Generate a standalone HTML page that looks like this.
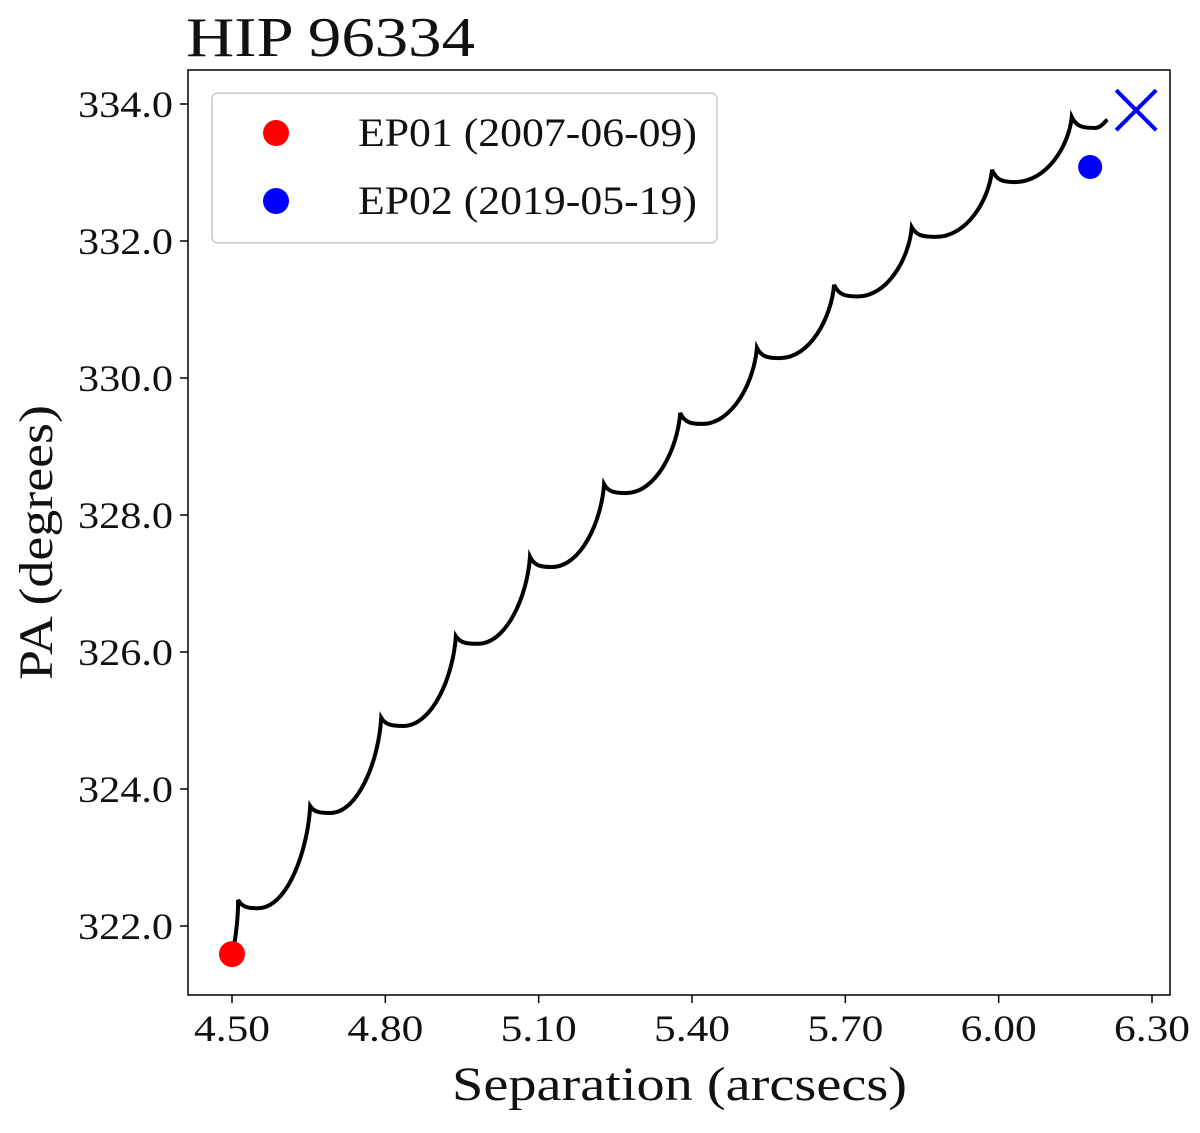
<!DOCTYPE html>
<html><head><meta charset="utf-8"><style>
body{margin:0;background:#fff}
svg text{font-family:"Liberation Serif","DejaVu Serif",serif;fill:#111}
</style></head><body>
<svg width="1200" height="1128" xmlns="http://www.w3.org/2000/svg" id="chart">
<text x="186" y="56" font-size="56" textLength="289" lengthAdjust="spacingAndGlyphs">HIP 96334</text>
<g id="ticks"></g>
<path id="track" fill="none" stroke="#000" stroke-width="4"/>
<g id="marks"></g>
<rect x="188" y="70" width="982" height="925" fill="none" stroke="#000" stroke-width="1.5"/>
<text x="452" y="1100" font-size="48" textLength="455" lengthAdjust="spacingAndGlyphs">Separation (arcsecs)</text>
<text transform="translate(52,680) rotate(-90)" font-size="48" textLength="275" lengthAdjust="spacingAndGlyphs">PA (degrees)</text>
<g>
<rect x="212" y="93" width="505" height="150" rx="6" fill="#fff" stroke="#ccc" stroke-width="1.5"/>
<circle cx="276" cy="133" r="13" fill="#ff0000"/>
<text x="358" y="146" font-size="40" textLength="339" lengthAdjust="spacingAndGlyphs">EP01 (2007-06-09)</text>
<circle cx="276" cy="201" r="13" fill="#0000ff"/>
<text x="358" y="214" font-size="40" textLength="339" lengthAdjust="spacingAndGlyphs">EP02 (2019-05-19)</text>
</g>
</svg>
<script>
const xTicks=[4.5,4.8,5.1,5.4,5.7,6.0,6.3];
const xTickLabels=["4.50","4.80","5.10","5.40","5.70","6.00","6.30"];
const yTicks=[322,324,326,328,330,332,334];
const yTickLabels=["322.0","324.0","326.0","328.0","330.0","332.0","334.0"];
const startPt=[4.50,321.59];
const cuspX=[4.512,4.653,4.792,4.938,5.083,5.228,5.377,5.527,5.678,5.830,5.987,6.143];
const cuspY=[322.38,323.75,325.04,326.23,327.39,328.45,329.49,330.44,331.36,332.20,333.04,333.81];
const minX=[4.551,4.692,4.835,4.981,5.126,5.271,5.420,5.572,5.724,5.877,6.032,6.188];
const minY=[322.26,323.65,324.92,326.12,327.24,328.32,329.33,330.29,331.19,332.06,332.86,333.65];
const endPt=[6.213,333.77];
const ep01=[4.50,321.59];
const ep02=[6.179,333.08];
const predicted=[6.269,333.91];
const sx=v=>232+(v-4.5)*(920/1.8);
const sy=v=>926-(v-322)*(822/12);
const NS="http://www.w3.org/2000/svg";
const tg=document.getElementById('ticks');
function mk(tag,attrs,parent){const e=document.createElementNS(NS,tag);for(const k in attrs)e.setAttribute(k,attrs[k]);parent.appendChild(e);return e;}
xTicks.forEach((v,i)=>{
 const l=mk('line',{x1:sx(v),x2:sx(v),y1:995,y2:1003,stroke:'#000','stroke-width':1.5},tg);
 
 
 const t=mk('text',{x:sx(v)-38,y:1041,'font-size':37,textLength:76,lengthAdjust:'spacingAndGlyphs'},tg);t.textContent=xTickLabels[i];
 
 
});
yTicks.forEach((v,i)=>{
 const l=mk('line',{x1:180,x2:188,y1:sy(v),y2:sy(v),stroke:'#000','stroke-width':1.5},tg);
 
 
 const t=mk('text',{x:78,y:sy(v)+13,'font-size':37,textLength:95,lengthAdjust:'spacingAndGlyphs'},tg);t.textContent=yTickLabels[i];
 
 
});
let d=`M${sx(startPt[0])},${sy(startPt[1])} `;
d+=`C${sx(startPt[0])+3},${sy(startPt[1])-10} ${sx(cuspX[0])},${sy(cuspY[0])+20} ${sx(cuspX[0])},${sy(cuspY[0])} `;
for(let i=0;i<cuspX.length;i++){
 const cx=sx(cuspX[i]),cy=sy(cuspY[i]),mx=sx(minX[i]),my=sy(minY[i]);
 d+=`C${cx+(mx-cx)*0.2},${cy+(my-cy)*0.9} ${cx+(mx-cx)*0.5},${my} ${mx},${my} `;
 let nx,ny,last=i===cuspX.length-1;
 if(!last){nx=sx(cuspX[i+1]);ny=sy(cuspY[i+1]);}else{nx=sx(endPt[0]);ny=sy(endPt[1]);}
 const dx=nx-mx,dy=ny-my;
 if(!last) d+=`C${mx+dx*0.55},${my} ${nx-dx*0.05},${ny-dy*0.45} ${nx},${ny} `;
 else d+=`C${mx+dx*0.5},${my} ${nx-dx*0.3},${ny-dy*0.3} ${nx},${ny} `;
}
document.getElementById('track').setAttribute('d',d);
const mg=document.getElementById('marks');
const c1=mk('circle',{cx:sx(ep01[0]),cy:sy(ep01[1]),r:13,fill:'#ff0000'},mg);


const c2=mk('circle',{cx:sx(ep02[0]),cy:sy(ep02[1]),r:12,fill:'#0000ff'},mg);


const px=sx(predicted[0]),py=sy(predicted[1]);
const xm=mk('path',{d:`M${px-20},${py-20}L${px+20},${py+20}M${px-20},${py+20}L${px+20},${py-20}`,stroke:'#0000ff','stroke-width':4,fill:'none'},mg);


</script>
</body></html>
